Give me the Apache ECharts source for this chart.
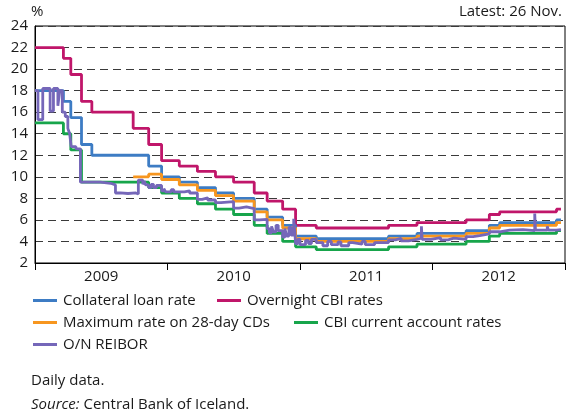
<!DOCTYPE html>
<html>
<head>
<meta charset="utf-8">
<script src="https://cdn.jsdelivr.net/npm/echarts@6/dist/echarts.min.js"></script>
<style>
  html, body { margin: 0; padding: 0; background: #fff; }
  #chart { width: 566px; height: 420px; }
</style>
</head>
<body>
<div id="chart"></div>
<script>
// policy decision dates (step changes), last entry = latest observation
var decisionDates = ['2009-01-01', '2009-03-19', '2009-04-08', '2009-05-07', '2009-06-04', '2009-09-24',
    '2009-11-05', '2009-12-10', '2010-01-27', '2010-03-17', '2010-05-05', '2010-06-23', '2010-08-18',
    '2010-09-22', '2010-11-03', '2010-12-08', '2011-02-02', '2011-08-17', '2011-11-02', '2012-03-14',
    '2012-05-16', '2012-06-13', '2012-11-14', '2012-11-26'];

var collateralRate = [18, 17, 15.5, 13, 12, 12, 11, 10, 9.5, 9, 8.5, 8, 7, 6.25, 5.5, 4.5, 4.25, 4.5, 4.75, 5, 5.5, 5.75, 6, 6];
var overnightRate = [22, 21, 19.5, 17, 16, 14.5, 13, 11.5, 11, 10.5, 10, 9.5, 8.5, 7.75, 7, 5.5, 5.25, 5.5, 5.75, 6, 6.5, 6.75, 7, 7];
var maxCdRate = [null, null, null, null, null, 10, 10.25, 9.75, 9.25, 8.75, 8.25, 7.75, 6.75, 6, 5.25, 4.25, 4, 4.25, 4.5, 4.75, 5.25, 5.5, 5.75, 5.75];
var currentAccountRate = [15, 14, 12.5, 9.5, 9.5, 9.5, 9, 8.5, 8, 7.5, 7, 6.5, 5.5, 4.75, 4, 3.5, 3.25, 3.5, 3.75, 4, 4.5, 4.75, 5, 5];

// O/N REIBOR, daily data
var reiborDates = ['2009-01-01', '2009-01-09', '2009-01-22', '2009-02-11', '2009-02-20', '2009-03-04', '2009-03-09',
    '2009-03-16', '2009-03-24', '2009-03-31', '2009-04-05', '2009-04-09', '2009-04-22', '2009-05-04', '2009-06-27',
    '2009-07-25', '2009-08-07', '2009-08-20', '2009-09-10', '2009-10-01', '2009-10-08', '2009-10-20', '2009-10-24',
    '2009-10-28', '2009-11-05', '2009-11-12', '2009-11-18', '2009-11-26', '2009-12-10', '2009-12-16', '2009-12-21',
    '2010-01-05', '2010-01-12', '2010-01-27', '2010-02-10', '2010-02-24', '2010-03-17', '2010-03-30', '2010-04-14',
    '2010-05-05', '2010-05-20', '2010-06-23', '2010-07-08', '2010-07-28', '2010-08-18', '2010-09-01', '2010-09-22',
    '2010-09-28', '2010-10-04', '2010-10-09', '2010-10-16', '2010-10-22', '2010-11-03', '2010-11-09', '2010-11-14',
    '2010-11-20', '2010-11-26', '2010-12-03', '2010-12-06', '2010-12-08', '2010-12-14', '2010-12-20', '2011-01-04',
    '2011-01-12', '2011-01-20', '2011-02-02', '2011-02-20', '2011-03-05', '2011-03-15', '2011-04-02', '2011-04-10',
    '2011-05-01', '2011-05-12', '2011-06-06', '2011-06-15', '2011-07-10', '2011-08-17', '2011-09-05', '2011-09-20',
    '2011-10-10', '2011-11-02', '2011-11-14', '2011-11-16', '2011-12-10', '2012-01-05', '2012-01-25', '2012-02-10',
    '2012-03-14', '2012-04-02', '2012-04-20', '2012-05-16', '2012-06-13', '2012-07-10', '2012-08-15', '2012-09-16',
    '2012-09-18', '2012-10-20', '2012-10-23', '2012-11-14', '2012-11-26'];
var reiborRate = [18, 15.3, 18.2, 16.1, 18.2, 16.6, 18, 16, 15.6, 14.5, 14, 12.8, 12.6, 9.5, 9.4,
    9.25, 8.5, 8.45, 8.5, 8.4, 9.7, 9.3, 9.6,
    9.25, 9, 9.3, 9, 9.2, 8.7, 8.9, 8.6,
    8.8, 8.6, 8.6, 8.7, 8.5, 7.9, 8.05, 7.85,
    7.6, 7.7, 7.1, 7.2, 7.05, 6, 6.05, 5.2,
    4.8, 5.4, 4.9, 5.5, 5, 4.4, 5.2, 4.5,
    5.3, 4.6, 6.1, 4.9, 3.8, 4.2, 3.7, 4.1,
    3.8, 4.2, 3.9, 3.6, 4, 3.7, 3.95, 3.6,
    3.9, 3.75, 4, 3.7, 3.9, 4.15, 4.3, 4.05,
    4.2, 4.3, 5.4, 4.2, 4.35, 4.15, 4.3, 4.2,
    4.45, 4.55, 4.7, 4.9, 5.05, 5.1, 5, 6.6,
    5.05, 5.4, 5.05, 5.1, 5.1];

var yearLabels = ['2009', '2010', '2011', '2012'];

function pairs(dates, values) {
    return dates.map(function (d, i) { return [d, values[i]]; });
}

var colors = {
    'Collateral loan rate': '#3d7cc4',
    'Overnight CBI rates': '#c0166a',
    'Maximum rate on 28-day CDs': '#f7961f',
    'CBI current account rates': '#17a54b',
    'O/N REIBOR': '#7567b9'
};

var font = 'Open Sans';

function legendAt(name, left, top) {
    return {
        data: [name],
        left: left,
        top: top,
        icon: 'rect',
        itemWidth: 24,
        itemHeight: 3,
        itemGap: 0,
        textStyle: { fontFamily: font, fontSize: 15, color: '#1a1a1a', padding: [0, 0, 0, 1] },
        selectedMode: false
    };
}

function lineSeries(name, data, step) {
    return {
        name: name,
        type: 'line',
        xAxisIndex: 1,
        step: step,
        showSymbol: false,
        symbol: 'none',
        animation: false,
        color: colors[name],
        lineStyle: { width: 2.8, color: colors[name] },
        data: data
    };
}

var chart = echarts.init(document.getElementById('chart'));
chart.setOption({
    animation: false,
    textStyle: { fontFamily: font },
    grid: {
        left: 35, top: 26, width: 530, height: 237,
        show: true, borderColor: '#000', borderWidth: 1
    },
    legend: [
        legendAt('Collateral loan rate', 28, 288),
        legendAt('Overnight CBI rates', 212, 288),
        legendAt('Maximum rate on 28-day CDs', 28, 310),
        legendAt('CBI current account rates', 289, 310),
        legendAt('O/N REIBOR', 28, 332)
    ],
    xAxis: [{
        type: 'category',
        data: yearLabels,
        boundaryGap: true,
        axisLine: { lineStyle: { color: '#000', width: 1 } },
        axisTick: { show: true, length: 7, alignWithLabel: false, lineStyle: { color: '#000' } },
        axisLabel: { fontFamily: font, fontSize: 15, color: '#1a1a1a', margin: 6 },
        splitLine: { show: false }
    }, {
        type: 'time',
        min: '2009-01-01',
        max: '2012-12-07',
        show: false
    }],
    yAxis: {
        type: 'value',
        min: 2,
        max: 24,
        interval: 2,
        axisLine: { show: true, lineStyle: { color: '#000', width: 1 } },
        axisTick: { show: false },
        axisLabel: { fontFamily: font, fontSize: 15, color: '#1a1a1a', margin: 7 },
        splitLine: { show: true, lineStyle: { type: [8, 5], color: '#3a3a3a', width: 1 } }
    },
    series: [
        lineSeries('CBI current account rates', pairs(decisionDates, currentAccountRate), 'end'),
        lineSeries('Overnight CBI rates', pairs(decisionDates, overnightRate), 'end'),
        lineSeries('Collateral loan rate', pairs(decisionDates, collateralRate), 'end'),
        lineSeries('Maximum rate on 28-day CDs', pairs(decisionDates, maxCdRate), 'end'),
        lineSeries('O/N REIBOR', pairs(reiborDates, reiborRate), 'end')
    ],
    graphic: [
        { type: 'text', left: 31, top: 4, style: { text: '%', fontFamily: font, fontSize: 15, fill: '#1a1a1a' } },
        { type: 'text', right: 4, top: 4, style: { text: 'Latest: 26 Nov.', fontFamily: font, fontSize: 15, fill: '#1a1a1a' } },
        { type: 'text', left: 31, top: 373, style: { text: 'Daily data.', fontFamily: font, fontSize: 15, fill: '#1a1a1a' } },
        {
            type: 'text', left: 31, top: 397,
            style: {
                text: '{i|Source:} Central Bank of Iceland.',
                fontFamily: font, fontSize: 15, fill: '#1a1a1a',
                rich: { i: { fontStyle: 'italic', fontFamily: font, fontSize: 15, fill: '#1a1a1a' } }
            }
        }
    ]
});
</script>
</body>
</html>
